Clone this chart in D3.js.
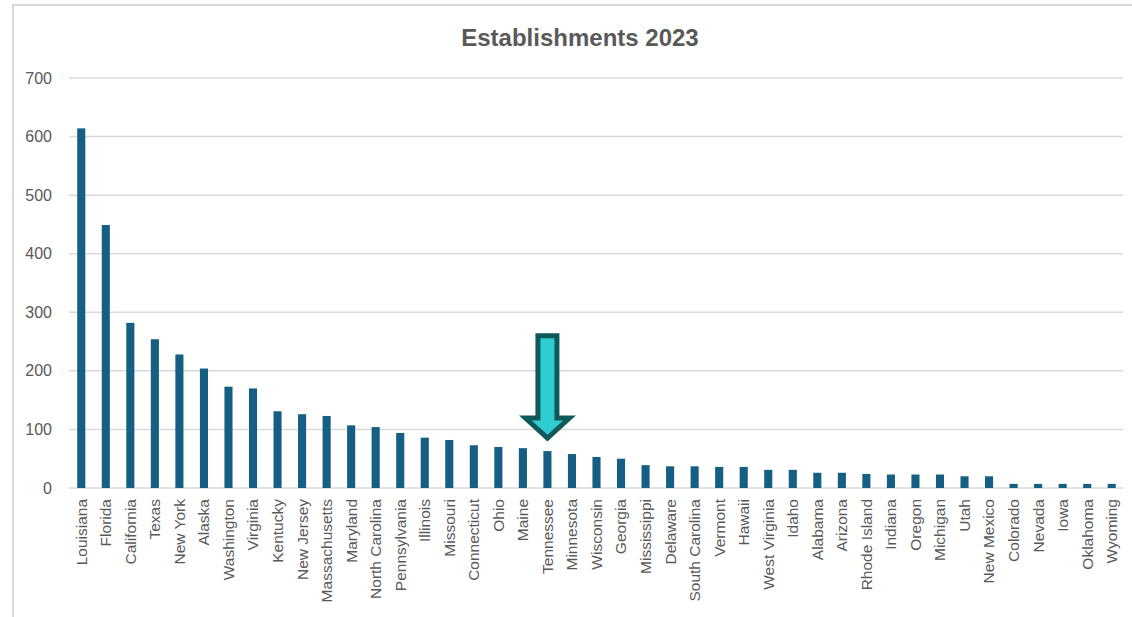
<!DOCTYPE html>
<html>
<head>
<meta charset="utf-8">
<script src="https://cdn.jsdelivr.net/npm/d3@7"></script>
<style>
  body { margin: 0; background: #fff; }
  text { font-family: "Liberation Sans", Arial, sans-serif; }
</style>
</head>
<body>
<div id="chart"></div>
<script>
const states = ["Louisiana", "Florida", "California", "Texas", "New York", "Alaska", "Washington",
  "Virginia", "Kentucky", "New Jersey", "Massachusetts", "Maryland", "North Carolina", "Pennsylvania",
  "Illinois", "Missouri", "Connecticut", "Ohio", "Maine", "Tennessee", "Minnesota", "Wisconsin",
  "Georgia", "Mississippi", "Delaware", "South Carolina", "Vermont", "Hawaii", "West Virginia",
  "Idaho", "Alabama", "Arizona", "Rhode Island", "Indiana", "Oregon", "Michigan", "Utah",
  "New Mexico", "Colorado", "Nevada", "Iowa", "Oklahoma", "Wyoming"];
const establishments = [614, 449, 282, 254, 228, 204, 173, 170, 131, 126, 123, 107, 104, 94,
  86, 82, 73, 70, 68, 63, 58, 53, 50, 39, 37, 37, 36, 36, 31,
  31, 26, 26, 24, 23, 23, 23, 20, 20, 7, 7, 7, 7, 7];
const yTicks = [0, 100, 200, 300, 400, 500, 600, 700];
const highlighted = "Tennessee";

const W = 1132, H = 617;
const plotLeft = 69, plotRight = 1124, plotTop = 78, plotBottom = 488;

const svg = d3.select("#chart")
  .append("svg")
    .attr("width", W)
    .attr("height", H);

// outer chart frame (right and bottom edges fall outside the window)
svg.append("rect")
  .attr("x", 13).attr("y", 5)
  .attr("width", 1140).attr("height", 640)
  .attr("fill", "none")
  .attr("stroke", "#d9d9d9")
  .attr("stroke-width", 2);

svg.append("text")
  .attr("x", 580).attr("y", 46)
  .attr("text-anchor", "middle")
  .style("font-size", "24px")
  .style("font-weight", "bold")
  .attr("fill", "#595959")
  .text("Establishments 2023");

const x = d3.scaleBand()
  .domain(states)
  .range([plotLeft, plotRight])
  .paddingInner(0.67)
  .paddingOuter(0.335);

const y = d3.scaleLinear()
  .domain([0, 700])
  .range([plotBottom, plotTop]);

// gridlines
svg.append("g")
  .selectAll("line")
  .data(yTicks)
  .enter().append("line")
    .attr("x1", plotLeft)
    .attr("x2", plotRight - 1)
    .attr("y1", d => y(d))
    .attr("y2", d => y(d))
    .attr("stroke", "#d9d9d9")
    .attr("stroke-width", 1.5);

// y axis labels
const yAxis = svg.append("g")
  .attr("transform", `translate(${plotLeft},0)`)
  .call(d3.axisLeft(y).tickValues(yTicks).tickSize(0).tickPadding(17));
yAxis.select(".domain").remove();
yAxis.selectAll("text")
  .style("font-size", "16px")
  .style("font-family", "Liberation Sans, Arial, sans-serif")
  .attr("fill", "#595959");

// bars
svg.selectAll(".bar")
  .data(states)
  .enter().append("rect")
    .attr("class", "bar")
    .attr("x", d => x(d))
    .attr("width", x.bandwidth())
    .attr("y", (d, i) => y(establishments[i]))
    .attr("height", (d, i) => y(0) - y(establishments[i]))
    .attr("fill", "#156082");

// x axis labels
const xAxis = svg.append("g")
  .attr("transform", `translate(0,${plotBottom})`)
  .call(d3.axisBottom(x).tickSize(0).tickPadding(0));
xAxis.select(".domain").remove();
xAxis.selectAll("text")
  .style("font-size", "15.5px")
  .style("font-family", "Liberation Sans, Arial, sans-serif")
  .attr("fill", "#595959")
  .attr("transform", "rotate(-90)")
  .attr("text-anchor", "end")
  .attr("x", -11)
  .attr("y", 0)
  .attr("dy", "0.35em");

// arrow pointing at the highlighted state
const ax = x(highlighted) + x.bandwidth() / 2;
const hv = establishments[states.indexOf(highlighted)];
const tipY = y(hv) - 13, headY = tipY - 20, topY = y(260);
const shaftHalf = 9.5, headHalf = 22;
svg.append("path")
  .attr("d", `M${ax - shaftHalf},${topY} L${ax + shaftHalf},${topY} L${ax + shaftHalf},${headY}
    L${ax + headHalf},${headY} L${ax},${tipY} L${ax - headHalf},${headY}
    L${ax - shaftHalf},${headY} Z`)
  .attr("fill", "#2ecdd2")
  .attr("stroke", "#10595a")
  .attr("stroke-width", 5)
  .attr("stroke-linejoin", "miter");
</script>
</body>
</html>
